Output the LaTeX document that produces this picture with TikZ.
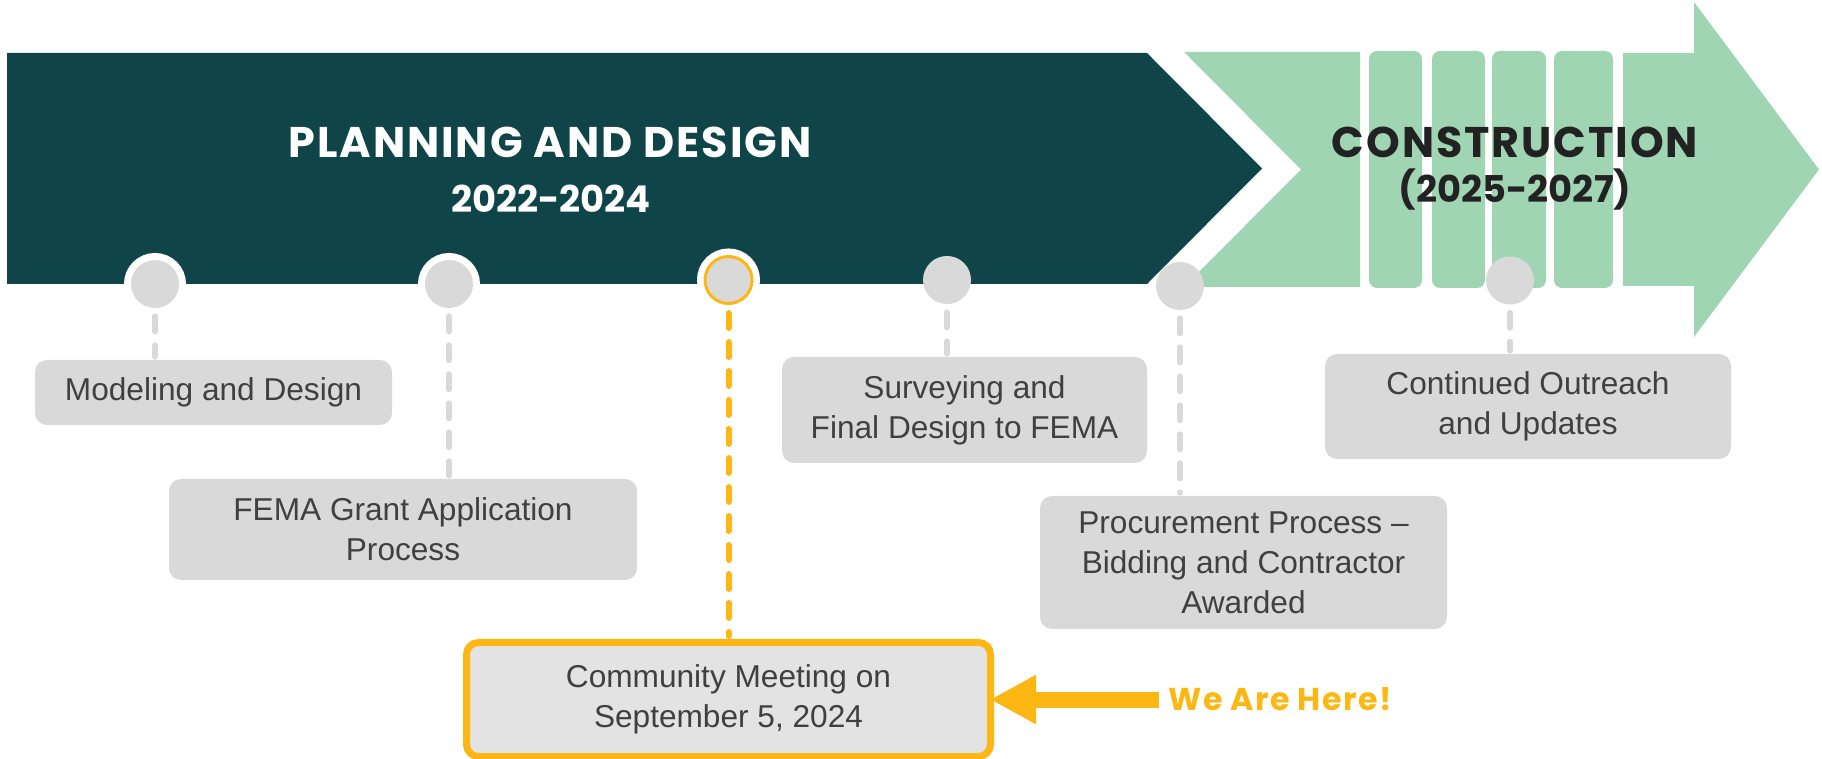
\documentclass[tikz,border=0pt]{standalone}
\usepackage{fontspec}
\setmainfont{Liberation Sans}
\newfontfamily\headfont{Poppins}[LetterSpace=4.5]
\newfontfamily\yearfont{Poppins}
\usetikzlibrary{arrows.meta}

\definecolor{darkteal}{HTML}{0F4548}
\definecolor{mint}{HTML}{A0D5B4}
\definecolor{dotgray}{HTML}{D9D9D9}
\definecolor{meetgray}{HTML}{E3E3E3}
\definecolor{labeltext}{HTML}{404040}
\definecolor{constext}{HTML}{222222}
\definecolor{gold}{HTML}{FDB714}

% one pixel of the layout
\newdimen\upx
\upx=0.02cm
\newcommand\labelfont{\fontsize{18}{22.7}\selectfont}
\newcommand\headsize{\headfont\bfseries\fontsize{24.4}{29}\selectfont}
\newcommand\yearsize{\yearfont\bfseries\fontsize{21}{25}\selectfont}

\begin{document}
\begin{tikzpicture}[
    x=0.02cm, y=-0.02cm,
    milestone/.style={circle, fill=dotgray, inner sep=0pt, minimum size=48\upx},
    ringed/.style={milestone, preaction={draw=white, line width=14\upx}},
    herepoint/.style={circle, fill=dotgray, draw=gold, line width=3\upx, inner sep=0pt, minimum size=47\upx, preaction={draw=white, line width=16\upx}},
    stagebox/.style={rectangle, rounded corners=12\upx, fill=dotgray, text=labeltext, align=center, inner sep=0pt, font=\labelfont},
    herebox/.style={stagebox, fill=meetgray, draw=gold, line width=7\upx},
    conn/.style={dotgray, line width=6\upx, line cap=round, dash pattern=on 15\upx off 14\upx, shorten <=8\upx, shorten >=3\upx},
    hereconn/.style={conn, gold},
    herearrow/.style={gold, line width=16\upx, -{Triangle[length=0.92cm, width=0.92cm]}, shorten >=-4\upx},
    head/.style={font=\headsize, inner sep=0pt, anchor=base},
    years/.style={font=\yearsize, inner sep=0pt, anchor=base}
]
    \useasboundingbox (0,0) rectangle (1822,759);

    % Planning band
    \fill[darkteal] (7,53) -- (1147,53) -- (1262,168.5) -- (1147,284) -- (7,284) -- cycle;

    % Construction arrow
    \fill[mint] (1184,52) -- (1360,52) -- (1360,287) -- (1184,287) -- (1301,169.5) -- cycle;
    \foreach \xa/\xb in {1369/1422, 1432/1485, 1492/1546, 1554/1613}
        \fill[mint, rounded corners=8\upx] (\xa,51) rectangle (\xb,288);
    \fill[mint] (1623,53) -- (1694,53) -- (1694,2) -- (1819,169.5) -- (1694,337) -- (1694,286) -- (1623,286) -- cycle;

    % Phase titles
    \node[head, text=white] (plan) at (550,158) {PLANNING AND DESIGN};
    \node[years, text=white] (planyr) at (551,213) {2022-2024};
    \node[head, text=constext] (cons) at (1515,158) {CONSTRUCTION};
    \node[years, text=constext] (consyr) at (1515,203) {(2025-2027)};

    % Milestone points
    \node[ringed] (p1) at (155,284) {};
    \node[ringed] (p2) at (449,284) {};
    \node[herepoint] (p3) at (728.5,280) {};
    \node[milestone] (p4) at (947,280) {};
    \node[milestone] (p5) at (1180,286) {};
    \node[milestone] (p6) at (1510,280.5) {};

    % Stage boxes
    \node[stagebox, minimum width=357\upx, minimum height=65\upx] (s1) at (213.5,392.5) {Modeling and Design};
    \node[stagebox, minimum width=468\upx, minimum height=101\upx] (s2) at (403,529.5) {FEMA Grant Application\\Process};
    \node[herebox, minimum width=524\upx, minimum height=114\upx] (s3) at (728.5,699.5) {Community Meeting on\\September 5, 2024};
    \node[stagebox, minimum width=365\upx, minimum height=106\upx] (s4) at (964.5,410) {Surveying and\\Final Design to FEMA};
    \node[stagebox, minimum width=407\upx, minimum height=133\upx] (s5) at (1243.5,562.5) {Procurement Process \textendash\\Bidding and Contractor\\Awarded};
    \node[stagebox, minimum width=406\upx, minimum height=105\upx] (s6) at (1528,406.5) {Continued Outreach\\and Updates};

    % Connectors
    \draw[conn] (p1.south) -- (p1.south |- s1.north);
    \draw[conn] (p2.south) -- (p2.south |- s2.north);
    \draw[hereconn] (p3.south) -- (p3.south |- s3.north);
    \draw[conn] (p4.south) -- (p4.south |- s4.north);
    \draw[conn] (p5.south) -- (p5.south |- s5.north);
    \draw[conn] (p6.south) -- (p6.south |- s6.north);

    % We are here
    \node[font=\headfont\bfseries\fontsize{18}{21}\selectfont, text=gold, inner xsep=9\upx, inner ysep=0pt, anchor=west] (here) at (1159,699.5) {We Are Here!};
    \draw[herearrow] (here.west |- s3.east) -- (s3.east);
\end{tikzpicture}
\end{document}
